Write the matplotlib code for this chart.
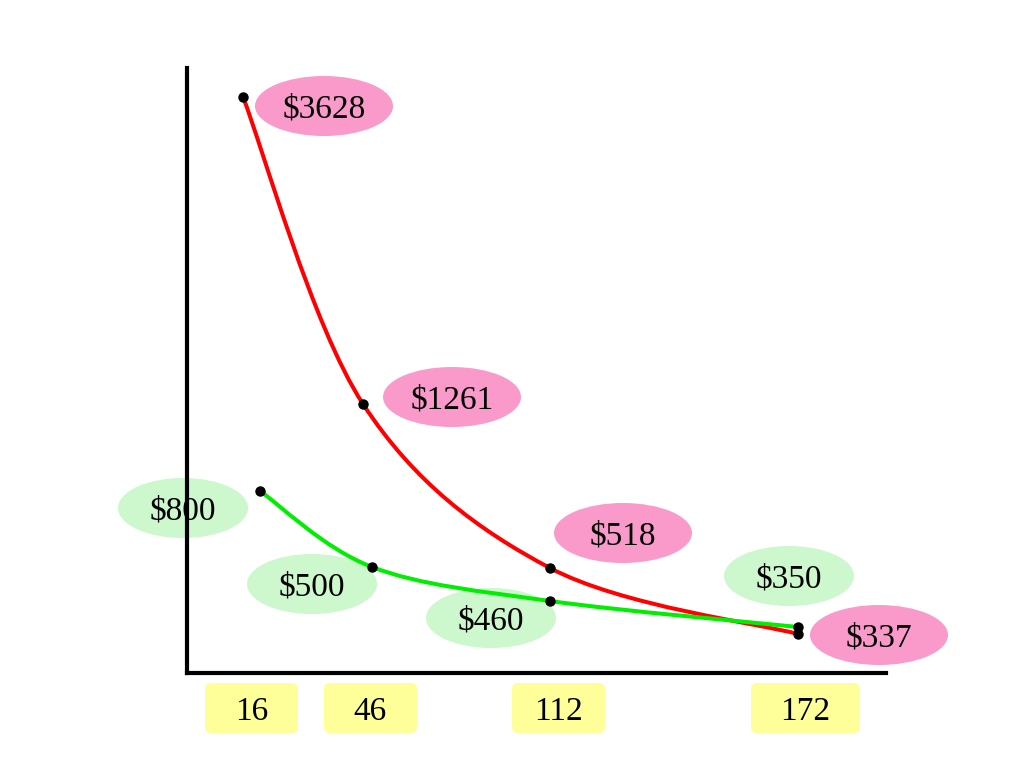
import numpy as np
import matplotlib
matplotlib.use("Agg")
import matplotlib.pyplot as plt
from matplotlib.patches import Ellipse, FancyBboxPatch, PathPatch
from matplotlib.path import Path

plt.rcParams['font.family'] = ['Liberation Serif', 'DejaVu Serif']

# x categories (shown in the yellow boxes) and the two price series
volumes = ['16', '46', '112', '172']
red_prices = [3628, 1261, 518, 337]
green_prices = [800, 500, 460, 350]

# the drawing is schematic (no real scale), so point positions are read off
# the picture, in pixels from the axis corner
red_x = [56, 176, 363, 611]
red_y = [576, 269, 105, 39]
green_x = [73, 185, 363, 611]
green_y = [182, 106, 72, 46]

# label bubble centres (same units)
red_lab = [(137, 567), (265, 276), (436, 140), (692, 38)]
green_lab = [(-4, 165), (125, 89), (304, 55), (602, 97)]
box_x = [64.5, 183.5, 371.5, 618.5]
box_w = [93, 93, 93, 109]

PINK = '#f99acb'
LGREEN = '#cdf7cd'
YELLOW = '#ffff99'


def smooth_path(xs, ys):
    # catmull-rom style bezier through the points, drawn by matplotlib's Path
    p = np.column_stack([xs, ys]).astype(float)
    pe = np.vstack([p[0], p, p[-1]])
    verts = [p[0]]
    codes = [Path.MOVETO]
    for i in range(len(p) - 1):
        a, b, c, d = pe[i], pe[i + 1], pe[i + 2], pe[i + 3]
        verts += [b + (c - a) / 6, c - (d - b) / 6, c]
        codes += [Path.CURVE4] * 3
    return Path(verts, codes)


fig = plt.figure(figsize=(10.24, 7.68), dpi=100)
ax = fig.add_axes([187 / 1024, 95 / 768, 699 / 1024, 605 / 768])
ax.set_xlim(0, 699)
ax.set_ylim(0, 605)
for s in ['top', 'right']:
    ax.spines[s].set_visible(False)
for s in ['left', 'bottom']:
    ax.spines[s].set_linewidth(3)
    ax.spines[s].set_capstyle('projecting')
ax.set_xticks([])
ax.set_yticks([])

# curves
ax.add_patch(PathPatch(smooth_path(red_x, red_y), fc='none', ec='#ff0000',
                       lw=2.9, zorder=3))
ax.add_patch(PathPatch(smooth_path(green_x, green_y), fc='none', ec='#00ee00',
                       lw=2.9, zorder=3))

# points
ax.plot(red_x, red_y, 'o', color='black', ms=6.5, zorder=4, clip_on=False)
ax.plot(green_x, green_y, 'o', color='black', ms=6.5, zorder=4, clip_on=False)

# value bubbles
for (cx, cy), v in zip(red_lab, red_prices):
    ax.add_patch(Ellipse((cx, cy), 138, 60, fc=PINK, ec='none', zorder=1,
                         clip_on=False))
    ax.text(cx, cy, f'${v}', fontsize=24, ha='center', va='center_baseline',
            zorder=2, clip_on=False)
for (cx, cy), v in zip(green_lab, green_prices):
    ax.add_patch(Ellipse((cx, cy), 130, 60, fc=LGREEN, ec='none', zorder=1,
                         clip_on=False))
    ax.text(cx, cy, f'${v}', fontsize=24, ha='center', va='center_baseline',
            zorder=2, clip_on=False)

# category boxes under the axis
for bx, bw, lab in zip(box_x, box_w, volumes):
    ax.add_patch(FancyBboxPatch((bx - bw / 2, -60), bw, 50,
                                boxstyle='round,pad=0,rounding_size=6',
                                fc=YELLOW, ec='none', clip_on=False))
    ax.text(bx, -35, lab, fontsize=24, ha='center', va='center_baseline',
            clip_on=False)

fig.savefig('out.png', dpi=100)
